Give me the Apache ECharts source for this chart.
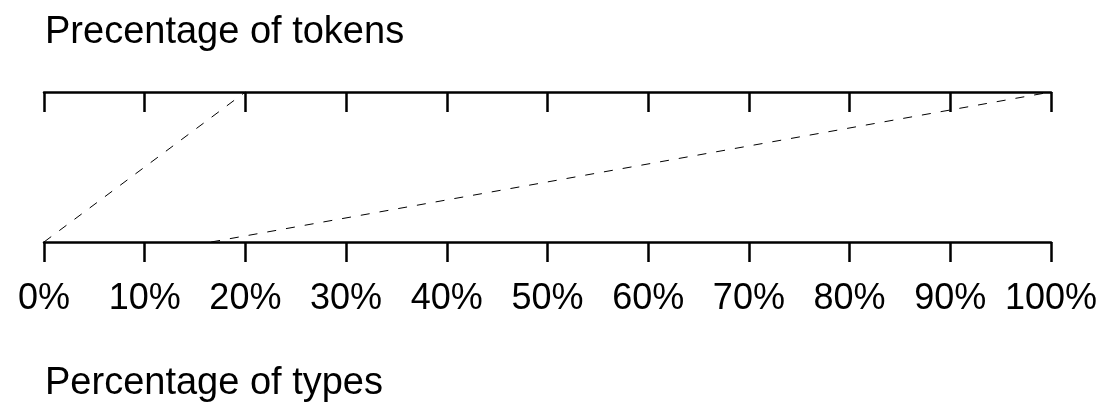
<!DOCTYPE html>
<html>
<head>
<meta charset="utf-8">
<script src="https://cdn.jsdelivr.net/npm/echarts@6/dist/echarts.min.js"></script>
<style>
html,body{margin:0;padding:0;background:#fff;}
#chart{width:1104px;height:402px;}
</style>
</head>
<body>
<div id="chart"></div>
<script>
// Data
const topTitle = 'Precentage of tokens';
const bottomTitle = 'Percentage of types';
const tickValues = [0, 10, 20, 30, 40, 50, 60, 70, 80, 90, 100];
const tickSuffix = '%';
// Each dashed connector: position on the types axis (bottom) -> position on the tokens axis (top)
const typesPct = [0, 16.6];
const tokensPct = [20, 100];

const FONT = 'Liberation Sans, Arial, sans-serif';
const chart = echarts.init(document.getElementById('chart'), null, {renderer: 'canvas'});

const series = typesPct.map((t, i) => ({
  type: 'line',
  data: [[t, 0], [tokensPct[i], 1]],
  symbol: 'none',
  silent: true,
  clip: false,
  lineStyle: {color: '#000', width: 1, type: [9, 10]},
  xAxisIndex: 0,
  yAxisIndex: 0
}));

const option = {
  animation: false,
  backgroundColor: '#fff',
  grid: {left: 44, right: 53, top: 92, bottom: 160, containLabel: false},
  xAxis: [
    {
      type: 'value', position: 'bottom', min: 0, max: 100, interval: 10,
      axisLine: {show: true, onZero: false, lineStyle: {color: '#000', width: 2.5}},
      axisTick: {show: true, inside: false, length: 20, lineStyle: {color: '#000', width: 2.5}},
      axisLabel: {show: true, margin: 39, color: '#000', fontSize: 36, fontFamily: FONT,
        verticalAlign: 'top',
        formatter: v => tickValues.includes(v) ? v + tickSuffix : ''},
      splitLine: {show: false}
    },
    {
      type: 'value', position: 'top', min: 0, max: 100, interval: 10,
      axisLine: {show: true, onZero: false, lineStyle: {color: '#000', width: 2.5}},
      axisTick: {show: true, inside: true, length: 20, lineStyle: {color: '#000', width: 2.5}},
      axisLabel: {show: false},
      splitLine: {show: false}
    }
  ],
  yAxis: {type: 'value', min: 0, max: 1, show: false, splitLine: {show: false}},
  graphic: [
    {type: 'text', left: 45, top: 14, style: {text: topTitle, font: '38px ' + FONT, fill: '#000'}},
    {type: 'text', left: 45, top: 365, style: {text: bottomTitle, font: '38px ' + FONT, fill: '#000'}}
  ],
  series: series
};
chart.setOption(option);
</script>
</body>
</html>
